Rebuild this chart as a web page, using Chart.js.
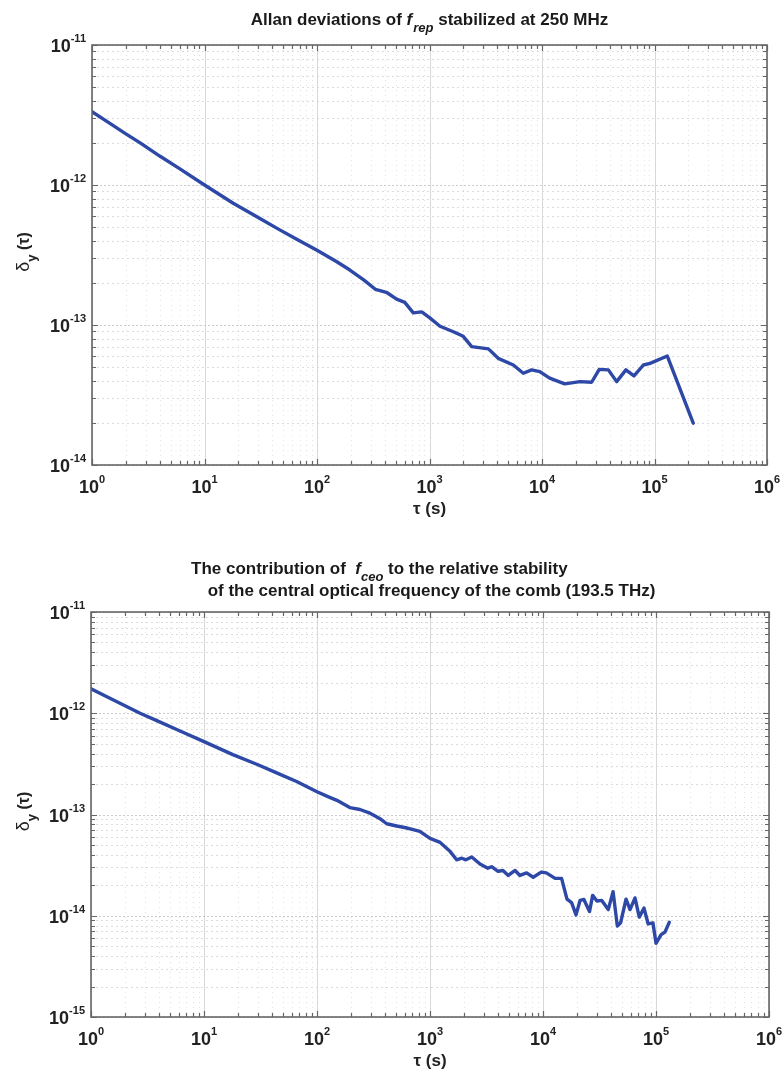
<!DOCTYPE html>
<html>
<head>
<meta charset="utf-8">
<script src="https://cdn.jsdelivr.net/npm/chart.js@4.4.0/dist/chart.umd.min.js"></script>
<style>
  body { margin: 0; background: #fff; }
  #topBox { position: absolute; left: 0; top: 0; width: 783px; height: 530px; }
  #botBox { position: absolute; left: 0; top: 530px; width: 783px; height: 542px; }
</style>
</head>
<body>
<div id="topBox"><canvas id="chartRep"></canvas></div>
<div id="botBox"><canvas id="chartCeo"></canvas></div>
<script>
// f_rep stabilized at 250 MHz
const tauRep = [1, 1.5, 2, 2.7, 4, 6, 10, 18, 30, 45, 66, 100, 150, 196, 260, 330, 363, 420, 510, 603, 718, 852,
  1000, 1240, 1630, 1995, 2370, 3340, 4080, 5560, 6820, 8090, 9550, 11700, 15900, 21800, 27600, 32300, 38900,
  46100, 55700, 65700, 79700, 91200, 130000, 221000];
const adevRep = [3.34e-12, 2.7e-12, 2.32e-12, 1.99e-12, 1.61e-12, 1.31e-12, 1.0e-12, 7.4e-13, 5.85e-13, 4.86e-13,
  4.1e-13, 3.42e-13, 2.83e-13, 2.47e-13, 2.1e-13, 1.8e-13, 1.76e-13, 1.7e-13, 1.53e-13, 1.45e-13, 1.22e-13, 1.24e-13,
  1.13e-13, 9.8e-14, 8.95e-14, 8.3e-14, 7.0e-14, 6.75e-14, 5.78e-14, 5.18e-14, 4.52e-14, 4.78e-14, 4.65e-14,
  4.17e-14, 3.8e-14, 3.94e-14, 3.9e-14, 4.82e-14, 4.78e-14, 3.94e-14, 4.78e-14, 4.33e-14, 5.18e-14, 5.32e-14,
  6.0e-14, 1.99e-14];

// contribution of f_ceo
const tauCeo = [1, 1.5, 2, 2.72, 4, 6, 10, 18, 30, 45, 66, 100, 125, 150, 195, 240, 294, 330, 361, 414, 507, 610,
  710, 813, 1000, 1230, 1510, 1720, 1910, 2080, 2340, 2770, 3250, 3510, 4000, 4420, 4930, 5660, 6250, 7160, 8190,
  9650, 10700, 12800, 14600, 16300, 17900, 19600, 21300, 23000, 25800, 27500, 30000, 33000, 37800, 41700, 45500,
  48600, 54300, 58900, 65200, 71100, 78300, 85300, 94000, 100000, 111000, 120000, 131000];
const adevCeo = [1.74e-12, 1.39e-12, 1.185e-12, 1.0e-12, 8.26e-13, 6.76e-13, 5.25e-13, 3.9e-13, 3.1e-13, 2.55e-13,
  2.12e-13, 1.68e-13, 1.5e-13, 1.38e-13, 1.17e-13, 1.12e-13, 1.03e-13, 9.6e-14, 9.1e-14, 8.1e-14, 7.7e-14, 7.4e-14,
  7.1e-14, 6.8e-14, 5.8e-14, 5.3e-14, 4.3e-14, 3.57e-14, 3.7e-14, 3.57e-14, 3.8e-14, 3.24e-14, 2.95e-14, 3.05e-14,
  2.75e-14, 2.8e-14, 2.5e-14, 2.8e-14, 2.5e-14, 2.65e-14, 2.4e-14, 2.7e-14, 2.65e-14, 2.34e-14, 2.34e-14, 1.46e-14,
  1.35e-14, 1.02e-14, 1.42e-14, 1.45e-14, 1.1e-14, 1.59e-14, 1.4e-14, 1.42e-14, 1.15e-14, 1.73e-14, 7.9e-15, 8.5e-15,
  1.46e-14, 1.15e-14, 1.5e-14, 9.7e-15, 1.19e-14, 8.3e-15, 8.5e-15, 5.35e-15, 6.5e-15, 6.9e-15, 8.6e-15];

// tick exponents (labels are 10^exp)
const xExp = [0, 1, 2, 3, 4, 5, 6];
const yExpRep = [-14, -13, -12, -11];
const yExpCeo = [-15, -14, -13, -12, -11];

const FONT = "'Liberation Sans', Arial, Helvetica, sans-serif";
const LINE_COLOR = '#2d48a6';

function drawRich(ctx, parts, x, y, align) {
  let w = 0;
  parts.forEach(p => {
    ctx.font = p.font;
    p.w = ctx.measureText(p.t).width + (p.kern || 0);
    w += p.w;
  });
  let cx = align === 'center' ? x - w / 2 : align === 'right' ? x - w : x;
  parts.forEach(p => {
    ctx.font = p.font;
    ctx.fillText(p.t, cx, y + (p.dy || 0));
    cx += p.w;
  });
}

function pow10Label(exp) {
  return [
    { t: '10', font: 'bold 18px ' + FONT },
    { t: String(exp), font: 'bold 11px ' + FONT, dy: -10 }
  ];
}

function gridLines(ctx, list, color, dash) {
  ctx.strokeStyle = color;
  ctx.setLineDash(dash);
  ctx.beginPath();
  list.forEach(l => { ctx.moveTo(l[0], l[1]); ctx.lineTo(l[2], l[3]); });
  ctx.stroke();
}

// matlab-like box, grid, ticks and labels
const matlabAxes = {
  id: 'matlabAxes',
  beforeDatasetsDraw(chart, args, opts) {
    const { ctx, chartArea: a, scales: { x, y } } = chart;
    const xDec = opts.xExp.map(e => Math.pow(10, e));
    const yDec = opts.yExp.map(e => Math.pow(10, e));
    const vMinor = [], hMinor = [], vMajor = [], hMajor = [];
    for (let i = 0; i < xDec.length; i++) {
      const px = Math.round(x.getPixelForValue(xDec[i])) + 0.5;
      vMajor.push([px, a.top, px, a.bottom]);
      if (i < xDec.length - 1) {
        for (let k = 2; k <= 9; k++) {
          const q = Math.round(x.getPixelForValue(xDec[i] * k)) + 0.5;
          vMinor.push([q, a.top, q, a.bottom]);
        }
      }
    }
    for (let i = 0; i < yDec.length; i++) {
      const py = Math.round(y.getPixelForValue(yDec[i])) + 0.5;
      hMajor.push([a.left, py, a.right, py]);
      if (i < yDec.length - 1) {
        for (let k = 2; k <= 9; k++) {
          const q = Math.round(y.getPixelForValue(yDec[i] * k)) + 0.5;
          hMinor.push([a.left, q, a.right, q]);
        }
      }
    }
    ctx.save();
    ctx.lineWidth = 1;
    gridLines(ctx, vMinor, '#e2e2e2', [1, 4]);
    gridLines(ctx, hMinor, '#dcdcdc', [2, 3]);
    gridLines(ctx, vMajor, '#d8d8d8', []);
    gridLines(ctx, hMajor, '#cccccc', [2, 2]);
    ctx.restore();
  },
  afterDatasetsDraw(chart, args, opts) {
    const { ctx, chartArea: a, scales: { x, y } } = chart;
    const xDec = opts.xExp.map(e => Math.pow(10, e));
    const yDec = opts.yExp.map(e => Math.pow(10, e));
    ctx.save();
    ctx.strokeStyle = '#666';
    ctx.lineWidth = 1.2;
    ctx.beginPath();
    // ticks on all four sides, pointing in
    const tick = (px, len) => {
      ctx.moveTo(px, a.bottom); ctx.lineTo(px, a.bottom - len);
      ctx.moveTo(px, a.top); ctx.lineTo(px, a.top + len);
    };
    const ytick = (py, len) => {
      ctx.moveTo(a.left, py); ctx.lineTo(a.left + len, py);
      ctx.moveTo(a.right, py); ctx.lineTo(a.right - len, py);
    };
    for (let i = 0; i < xDec.length; i++) {
      tick(Math.round(x.getPixelForValue(xDec[i])) + 0.5, 6);
      if (i < xDec.length - 1) {
        for (let k = 2; k <= 9; k++) tick(Math.round(x.getPixelForValue(xDec[i] * k)) + 0.5, 4);
      }
    }
    for (let i = 0; i < yDec.length; i++) {
      ytick(Math.round(y.getPixelForValue(yDec[i])) + 0.5, 6);
      if (i < yDec.length - 1) {
        for (let k = 2; k <= 9; k++) ytick(Math.round(y.getPixelForValue(yDec[i] * k)) + 0.5, 4);
      }
    }
    ctx.stroke();
    ctx.lineWidth = 1.6;
    ctx.strokeRect(a.left, a.top, a.right - a.left, a.bottom - a.top);

    // tick labels
    ctx.fillStyle = '#222';
    ctx.textAlign = 'left';
    ctx.textBaseline = 'alphabetic';
    opts.xExp.forEach(e => {
      drawRich(ctx, pow10Label(e), x.getPixelForValue(Math.pow(10, e)), a.bottom + 28, 'center');
    });
    opts.yExp.forEach(e => {
      drawRich(ctx, pow10Label(e), a.left - 6, y.getPixelForValue(Math.pow(10, e)) + 7, 'right');
    });

    // axis titles
    const cx = (a.left + a.right) / 2;
    drawRich(ctx, [{ t: 'τ (s)', font: 'bold 17px ' + FONT }], cx, a.bottom + 49, 'center');
    ctx.save();
    ctx.translate(29, (a.top + a.bottom) / 2 - 3);
    ctx.rotate(-Math.PI / 2);
    drawRich(ctx, [
      { t: 'δ', font: '18px ' + FONT },
      { t: 'y', font: 'bold 13px ' + FONT, dy: 7 },
      { t: ' (τ)', font: 'bold 16px ' + FONT }
    ], 0, 0, 'center');
    ctx.restore();

    // chart title
    ctx.fillStyle = '#1a1a1a';
    opts.title(ctx, a);
    ctx.restore();
  }
};

function makeChart(id, tau, adev, yExp, pad, titleFn) {
  const pts = tau.map((t, i) => ({ x: t, y: adev[i] }));
  return new Chart(document.getElementById(id), {
    type: 'line',
    data: {
      datasets: [{
        data: pts,
        borderColor: LINE_COLOR,
        borderWidth: 3.4,
        pointRadius: 0,
        tension: 0,
        fill: false,
        borderJoinStyle: 'round',
        borderCapStyle: 'round'
      }]
    },
    options: {
      responsive: true,
      maintainAspectRatio: false,
      animation: false,
      layout: { padding: pad },
      plugins: {
        legend: { display: false },
        tooltip: { enabled: false },
        matlabAxes: { xExp: xExp, yExp: yExp, title: titleFn }
      },
      scales: {
        x: { type: 'logarithmic', min: 1, max: 1e6, display: false },
        y: { type: 'logarithmic', min: Math.pow(10, yExp[0]), max: Math.pow(10, yExp[yExp.length - 1]), display: false }
      }
    },
    plugins: [matlabAxes]
  });
}

makeChart('chartRep', tauRep, adevRep, yExpRep, { left: 92, right: 16, top: 45, bottom: 65 }, (ctx, a) => {
  drawRich(ctx, [
    { t: 'Allan deviations of ', font: 'bold 17px ' + FONT },
    { t: 'f', font: 'italic bold 17px ' + FONT, kern: 1 },
    { t: 'rep', font: 'italic bold 13px ' + FONT, dy: 7 },
    { t: ' stabilized at 250 MHz', font: 'bold 17px ' + FONT }
  ], (a.left + a.right) / 2, a.top - 20, 'center');
});

makeChart('chartCeo', tauCeo, adevCeo, yExpCeo, { left: 91, right: 14, top: 82, bottom: 55 }, (ctx, a) => {
  drawRich(ctx, [
    { t: 'The contribution of  ', font: 'bold 17px ' + FONT },
    { t: 'f', font: 'italic bold 17px ' + FONT, kern: 0 },
    { t: 'ceo', font: 'italic bold 13px ' + FONT, dy: 7 },
    { t: ' to the relative stability', font: 'bold 17px ' + FONT }
  ], a.left + 100, a.top - 38, 'left');
  drawRich(ctx, [
    { t: 'of the central optical frequency of the comb (193.5 THz)', font: 'bold 17px ' + FONT }
  ], (a.left + a.right) / 2 + 1.5, a.top - 16, 'center');
});
</script>
</body>
</html>
